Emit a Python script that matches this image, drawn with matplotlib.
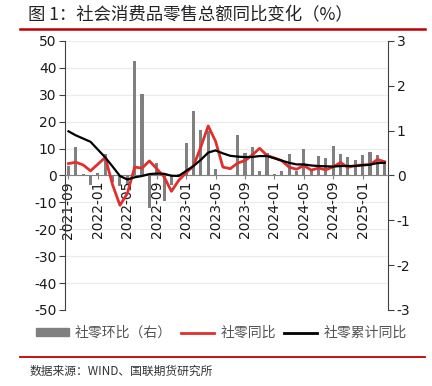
import numpy as np
import pandas as pd
import matplotlib
matplotlib.use("Agg")
import matplotlib.pyplot as plt
from matplotlib.lines import Line2D
from matplotlib.patches import Patch

plt.rcParams['font.family'] = ['DejaVu Sans']
plt.rcParams['axes.unicode_minus'] = False
CJK = ['Noto Sans CJK SC', 'DejaVu Sans']

# monthly categories 2021-09 .. 2025-04
months = list(pd.period_range('2021-09', periods=44, freq='M').strftime('%Y-%m'))
label_every = 4

# 社零同比 (left axis, %)
yoy = [4.4, 4.9, 3.9, 1.7, 4.2, 6.7, -3.5, -11.1, -6.7, 3.1, 2.7, 5.4,
       2.5, -0.5, -5.9, -1.8, 1.0, 3.5, 10.6, 18.4, 12.7, 3.1, 2.5, 4.6,
       5.5, 7.6, 10.1, 7.4, 6.5, 5.5, 3.1, 2.3, 3.7, 2.0, 2.7, 2.1,
       3.2, 4.8, 3.0, 3.7, 3.9, 4.0, 5.9, 5.1]

# 社零累计同比 (left axis, %)
cum_yoy = [16.4, 14.9, 13.7, 12.5, 9.6, 6.7, 3.3, -0.2, -1.5, -0.7, -0.2, 0.5,
           0.7, 0.6, -0.1, -0.2, 1.7, 3.5, 5.8, 8.5, 9.3, 8.2, 7.3, 7.0,
           6.8, 6.9, 7.2, 7.2, 6.4, 5.5, 4.7, 4.1, 4.1, 3.7, 3.5, 3.4,
           3.3, 3.5, 3.5, 3.5, 3.8, 4.0, 4.6, 4.7]

# 社零环比 (right axis, %)
mom = [0.20, 0.63, 0.03, -0.21, 0.06, 0.48, -0.15, -0.24, -0.18, 2.56, 1.81, -0.73,
       0.28, -0.58, -0.21, 0.03, 0.72, 1.43, 1.02, 0.99, 0.15, 0.02, 0.02, 0.90,
       0.50, 0.63, 0.09, 0.50, 0.03, 0.11, 0.47, 0.09, 0.59, 0.15, 0.44, 0.39,
       0.65, 0.47, 0.41, 0.35, 0.46, 0.52, 0.46, 0.33]

RED = '#E0302D'
DARK_RED = '#C00000'
SPINE = '#404040'

fig = plt.figure(figsize=(4.32, 3.86), dpi=100)
ax = fig.add_axes([0.150, 0.197, 0.749, 0.697])
ax2 = ax.twinx()
ax.set_zorder(ax2.get_zorder() + 1)
ax.patch.set_visible(False)

x = np.arange(len(months))

# bars on the right axis
ax2.bar(x, mom, width=0.42, color='#808080', zorder=2)
ax2.set_ylim(-3, 3)
ax2.set_yticks(np.arange(-3, 4, 1))

# lines on the left axis
ax.plot(x, yoy, color=RED, lw=2.0, zorder=3)
ax.plot(x, cum_yoy, color='black', lw=1.6, zorder=4)
ax.set_ylim(-50, 50)
ax.set_yticks(np.arange(-50, 51, 10))
ax.set_xlim(-0.5, len(months) - 0.5)
ax.set_xticks(x[::label_every])
ax.set_xticklabels(months[::label_every])

# gridlines behind everything
for v in np.arange(-50, 51, 10):
    ax2.axhline(v / 50 * 3, color='#EBEBEB', lw=0.8, zorder=0)

# spines
for a in (ax, ax2):
    a.spines['top'].set_visible(False)
ax.spines['right'].set_visible(False)
ax2.spines['left'].set_visible(False)
ax2.spines['bottom'].set_visible(False)
ax.spines['bottom'].set_position(('data', 0))
ax.spines['bottom'].set_color('#808080')
ax.spines['left'].set_color(SPINE)
ax2.spines['right'].set_color(SPINE)

ax.tick_params(axis='y', labelsize=10, length=4, color=SPINE, pad=2, labelcolor='#1a1a1a')
ax2.tick_params(axis='y', labelsize=10, length=4, color=SPINE, pad=2, labelcolor='#1a1a1a')
ax.tick_params(axis='x', labelsize=10, length=3, color='#808080', pad=1,
               labelcolor='#1a1a1a', labelrotation=90)
for t in ax.get_xticklabels():
    t.set_va('top')
    t.set_ha('center')

# title and separator lines
fig.text(0.065, 0.963, '图 1：社会消费品零售总额同比变化（%）', family=CJK,
         fontsize=12.5, color='#222222', va='center', ha='left')
fig.add_artist(Line2D([0.046, 0.984], [0.926, 0.926], color=DARK_RED, lw=1.8,
                      transform=fig.transFigure))
fig.add_artist(Line2D([0.046, 0.984], [0.076, 0.076], color=DARK_RED, lw=1.3,
                      transform=fig.transFigure))
fig.text(0.069, 0.038, '数据来源：WIND、国联期货研究所', family=CJK,
         fontsize=8.5, color='#333333', va='center', ha='left')

# legend
handles = [Patch(color='#808080'),
           Line2D([], [], color=RED, lw=2),
           Line2D([], [], color='black', lw=2)]
labels = ['社零环比（右）', '社零同比', '社零累计同比']
fig.legend(handles, labels, loc='center', bbox_to_anchor=(0.512, 0.137), ncol=3,
           frameon=False, prop={'family': CJK, 'size': 10}, labelcolor='#555555',
           handlelength=2.4, handleheight=0.5, handletextpad=0.45, columnspacing=0.6)

fig.savefig('out.png', dpi=100)
